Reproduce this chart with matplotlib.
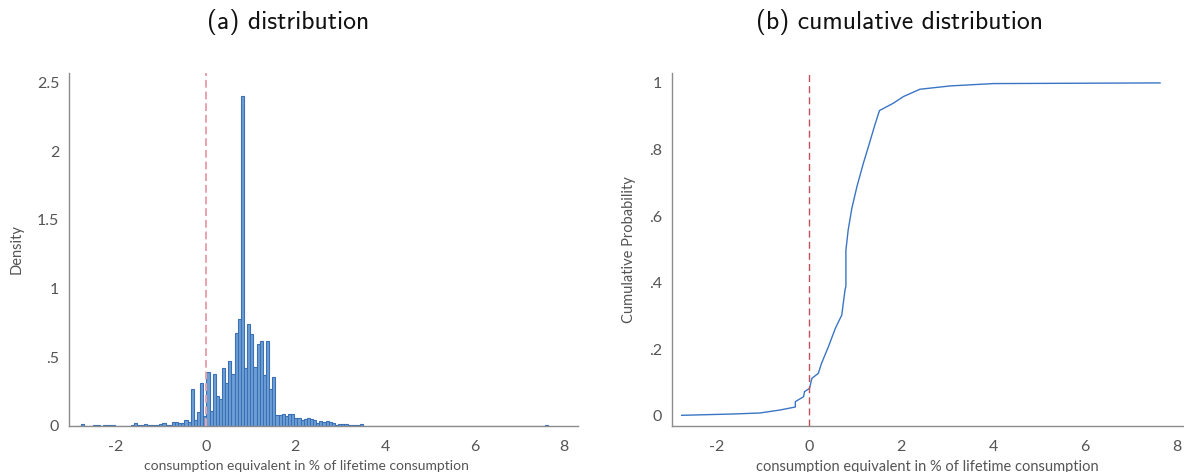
"""
Distribution and cumulative distribution of consumption equivalents.
"""

import matplotlib
matplotlib.use("Agg")
import matplotlib.pyplot as plt
import numpy as np

# histogram: bin width and first bin centre, density per bin
bin_width = 0.07
first_center = -2.89
density = [
    0, 0, 0.015, 0, 0, 0, 0.005, 0.01, 0, 0.01,
    0.005, 0.01, 0.005, 0.003, 0.003, 0.003, 0.003, 0.003, 0.005, 0.02,
    0.005, 0.005, 0.012, 0.004, 0.004, 0.005, 0.006, 0.012, 0.02, 0.01,
    0.006, 0.027, 0.03, 0.02, 0.02, 0.045, 0.027, 0.27, 0.045, 0.10,
    0.31, 0.07, 0.39, 0.11, 0.38, 0.22, 0.20, 0.42, 0.31, 0.47,
    0.38, 0.68, 0.78, 2.40, 0.42, 0.74, 0.67, 0.43, 0.60, 0.62,
    0.37, 0.62, 0.27, 0.36, 0.08, 0.08, 0.09, 0.07, 0.085, 0.09,
    0.06, 0.055, 0.04, 0.05, 0.06, 0.05, 0.04, 0.025, 0.035, 0.03,
    0.035, 0.03, 0.02, 0.01, 0.015, 0.015, 0.015, 0.005, 0.004, 0.004,
    0.004, 0.015, 0.002, 0.002, 0.002, 0.002, 0.002, 0.002, 0.002, 0.002,
    0.002, 0.002, 0.002, 0.002, 0.002, 0.002, 0.002, 0.002, 0.002, 0.002,
    0.002, 0.002, 0.002, 0.002, 0.002, 0.002, 0.002, 0.002, 0.002, 0.002,
    0.002, 0.002, 0.002, 0.002, 0.002, 0.002, 0.002, 0.002, 0.002, 0.002,
    0.002, 0.002, 0.002, 0.002, 0.002, 0.002, 0.002, 0.002, 0.002, 0.002,
    0.002, 0.002, 0.002, 0.002, 0.002, 0.002, 0.002, 0.002, 0.002, 0,
    0.008,
]

# cumulative distribution points
cdf_x = [-2.77, -1.65, -1.07, -0.63, -0.30, -0.30, -0.12, -0.10, 0.01, 0.06,
         0.20, 0.27, 0.42, 0.57, 0.71, 0.78, 0.80, 0.80, 0.85, 0.93,
         1.04, 1.18, 1.29, 1.43, 1.53, 1.83, 2.05, 2.41, 3.07, 4.0, 7.63]
cdf_p = [0.002, 0.006, 0.009, 0.018, 0.027, 0.043, 0.058, 0.073, 0.083, 0.113,
         0.128, 0.158, 0.208, 0.263, 0.303, 0.378, 0.390, 0.498, 0.559, 0.624,
         0.689, 0.759, 0.809, 0.874, 0.917, 0.939, 0.959, 0.981, 0.991, 0.998, 1.0]

x_ticks = [-2, 0, 2, 4, 6, 8]
hist_yticks = [0, 0.5, 1, 1.5, 2, 2.5]
hist_ylabels = ["0", ".5", "1", "1.5", "2", "2.5"]
cdf_yticks = [0, 0.2, 0.4, 0.6, 0.8, 1]
cdf_ylabels = ["0", ".2", ".4", ".6", ".8", "1"]

xlabel = "consumption equivalent in % of lifetime consumption"

plt.rcParams["font.family"] = ["Lato", "DejaVu Sans"]

fig = plt.figure(figsize=(11.84, 4.72), dpi=100)
ax1 = fig.add_axes([0.0583, 0.0975, 0.43, 0.748])
ax2 = fig.add_axes([0.5676, 0.0975, 0.4316, 0.748])

spine_col = "#8c8c8c"
text_col = "#555555"


def style_axis(ax):
    for side in ["top", "right"]:
        ax.spines[side].set_visible(False)
    for side in ["left", "bottom"]:
        ax.spines[side].set_color(spine_col)
        ax.spines[side].set_linewidth(1.0)
    ax.tick_params(axis="both", length=0, labelsize=11.5, colors=text_col)
    ax.tick_params(axis="x", pad=10)
    ax.tick_params(axis="y", pad=7)
    ax.set_xticks(x_ticks)
    ax.set_xticklabels([str(t) for t in x_ticks])
    ax.set_xlabel(xlabel, fontsize=10, color=text_col)


# (a) histogram
centers = first_center + bin_width * np.arange(len(density))
ax1.bar(centers, density, width=bin_width, color="#6d9fd6",
        edgecolor="#3c6fb3", linewidth=0.8, zorder=2)
ax1.axvline(0, color="#e8a3ad", lw=1.4, linestyle=(0, (4, 2)), zorder=3)
ax1.set_xlim(-3.05, 8.31)
ax1.set_ylim(0, 2.57)
ax1.set_yticks(hist_yticks)
ax1.set_yticklabels(hist_ylabels)
ax1.set_ylabel("Density", fontsize=10.5, color=text_col)
style_axis(ax1)
ax1.yaxis.set_label_coords(-0.090, 0.5)
ax1.xaxis.set_label_coords(0.466, -0.095)

# (b) cumulative distribution
ax2.plot(cdf_x, cdf_p, color="#3a75c4", lw=1.0, zorder=2)
ax2.axvline(0, color="#c4505a", lw=1.0, linestyle=(0, (5, 3)), zorder=3)
ax2.set_xlim(-2.98, 8.13)
ax2.set_ylim(-0.03, 1.03)
ax2.set_yticks(cdf_yticks)
ax2.set_yticklabels(cdf_ylabels)
ax2.set_ylabel("Cumulative Probability", fontsize=10.5, color=text_col)
style_axis(ax2)
ax2.set_xlabel(xlabel, fontsize=10.5, color=text_col)
ax2.yaxis.set_label_coords(-0.070, 0.5)
ax2.xaxis.set_label_coords(0.5, -0.095)

fig.text(0.243, 0.953, "(a) distribution", ha="center", va="center",
         fontsize=18.5, family=["cmss10", "DejaVu Sans"], color="#111111")
fig.text(0.760, 0.953, "(b) cumulative distribution", ha="center", va="center",
         fontsize=18.5, family=["cmss10", "DejaVu Sans"], color="#111111")

fig.savefig("out.png", dpi=100)
